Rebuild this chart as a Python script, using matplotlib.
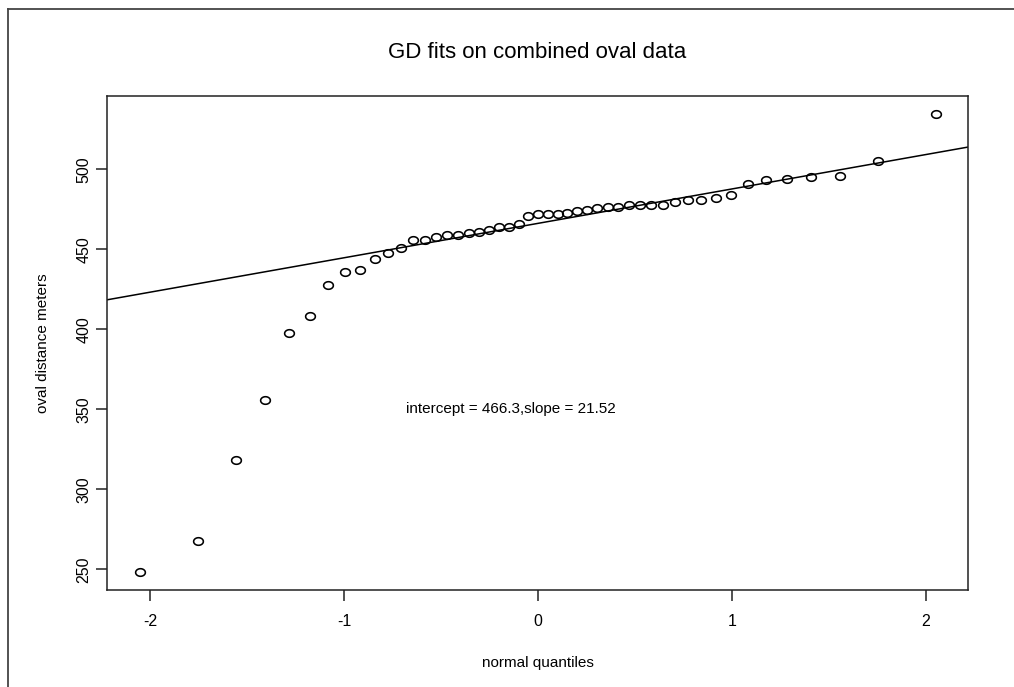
import numpy as np
import matplotlib
matplotlib.use("Agg")
import matplotlib.pyplot as plt
from matplotlib.path import Path
from matplotlib.lines import Line2D

plt.rcParams['font.family'] = ['Liberation Sans', 'DejaVu Sans']

# normal quantiles (qnorm(i/50), i = 1..49)
quantiles = [-2.0537, -1.7507, -1.5548, -1.4051, -1.2816, -1.1750, -1.0803, -0.9945,
             -0.9154, -0.8416, -0.7722, -0.7063, -0.6433, -0.5828, -0.5244, -0.4677,
             -0.4125, -0.3585, -0.3055, -0.2533, -0.2019, -0.1510, -0.1004, -0.0502,
             0.0, 0.0502, 0.1004, 0.1510, 0.2019, 0.2533, 0.3055, 0.3585, 0.4125,
             0.4677, 0.5244, 0.5828, 0.6433, 0.7063, 0.7722, 0.8416, 0.9154, 0.9945,
             1.0803, 1.1750, 1.2816, 1.4051, 1.5548, 1.7507, 2.0537]
# sorted oval distances (meters)
distances = [248.5, 267.5, 318.1, 356.0, 397.5, 408.3, 427.9, 435.8, 436.9, 444.1,
             447.5, 451.0, 455.8, 455.8, 457.9, 458.9, 458.9, 460.2, 461.0, 462.1,
             464.0, 464.0, 466.0, 470.8, 471.9, 471.9, 471.9, 472.9, 473.9, 474.8,
             475.8, 476.7, 476.7, 477.9, 477.9, 477.9, 477.9, 479.8, 480.6, 480.6,
             481.9, 483.8, 491.0, 493.1, 493.9, 495.0, 495.8, 505.0, 534.4]
intercept = 466.3
slope = 21.52

title = "GD fits on combined oval data"
xlabel = "normal quantiles"
ylabel = "oval distance meters"
xticks = [-2, -1, 0, 1, 2]
yticks = [250, 300, 350, 400, 450, 500]

fig = plt.figure(figsize=(10.14, 6.87), dpi=100)
ax = fig.add_axes([0.1055, 0.1412, 0.8491, 0.7191])

# elliptical open circle marker (wider than tall)
t = np.linspace(0, 2 * np.pi, 60)
ell = Path(np.column_stack([np.cos(t), 0.78 * np.sin(t)]))
ax.plot(quantiles, distances, linestyle='none', marker=ell, markersize=7.0,
        markerfacecolor='none', markeredgecolor='black', markeredgewidth=1.15, zorder=3)

xmin, xmax = -2.222, 2.216
ax.set_xlim(xmin, xmax)
ax.set_ylim(237.06, 545.94)
xs = np.array([xmin, xmax])
ax.plot(xs, intercept + slope * xs, color='black', lw=1.1, zorder=2)

ax.text(-0.14, 350, f"intercept = {intercept},slope = {slope}", ha='center', va='center',
        fontsize=11)

ax.set_xticks(xticks)
ax.set_xticklabels([str(v) for v in xticks], fontsize=11.5)
ax.set_yticks(yticks)
ax.set_yticklabels([str(v) for v in yticks], fontsize=11.5, rotation=90, va='center')
ax.tick_params(direction='out', length=8, width=1.1, color='#222222')
ax.tick_params(axis='x', pad=9)
ax.tick_params(axis='y', pad=3)
for s in ax.spines.values():
    s.set_linewidth(1.1)
    s.set_color('#222222')

ax.set_xlabel(xlabel, fontsize=11, labelpad=20)
ax.set_ylabel(ylabel, fontsize=11, labelpad=19)
fig.text(0.530, 1 - 52 / 687, title, ha='center', va='center', fontsize=16)

# outer frame (left and top edges visible)
fig.add_artist(Line2D([8 / 1014, 8 / 1014], [0, 1 - 9 / 687], transform=fig.transFigure,
                      color='#444444', lw=1.3))
fig.add_artist(Line2D([8 / 1014, 1], [1 - 9 / 687, 1 - 9 / 687], transform=fig.transFigure,
                      color='#444444', lw=1.3))

fig.savefig("out.png", dpi=100)
